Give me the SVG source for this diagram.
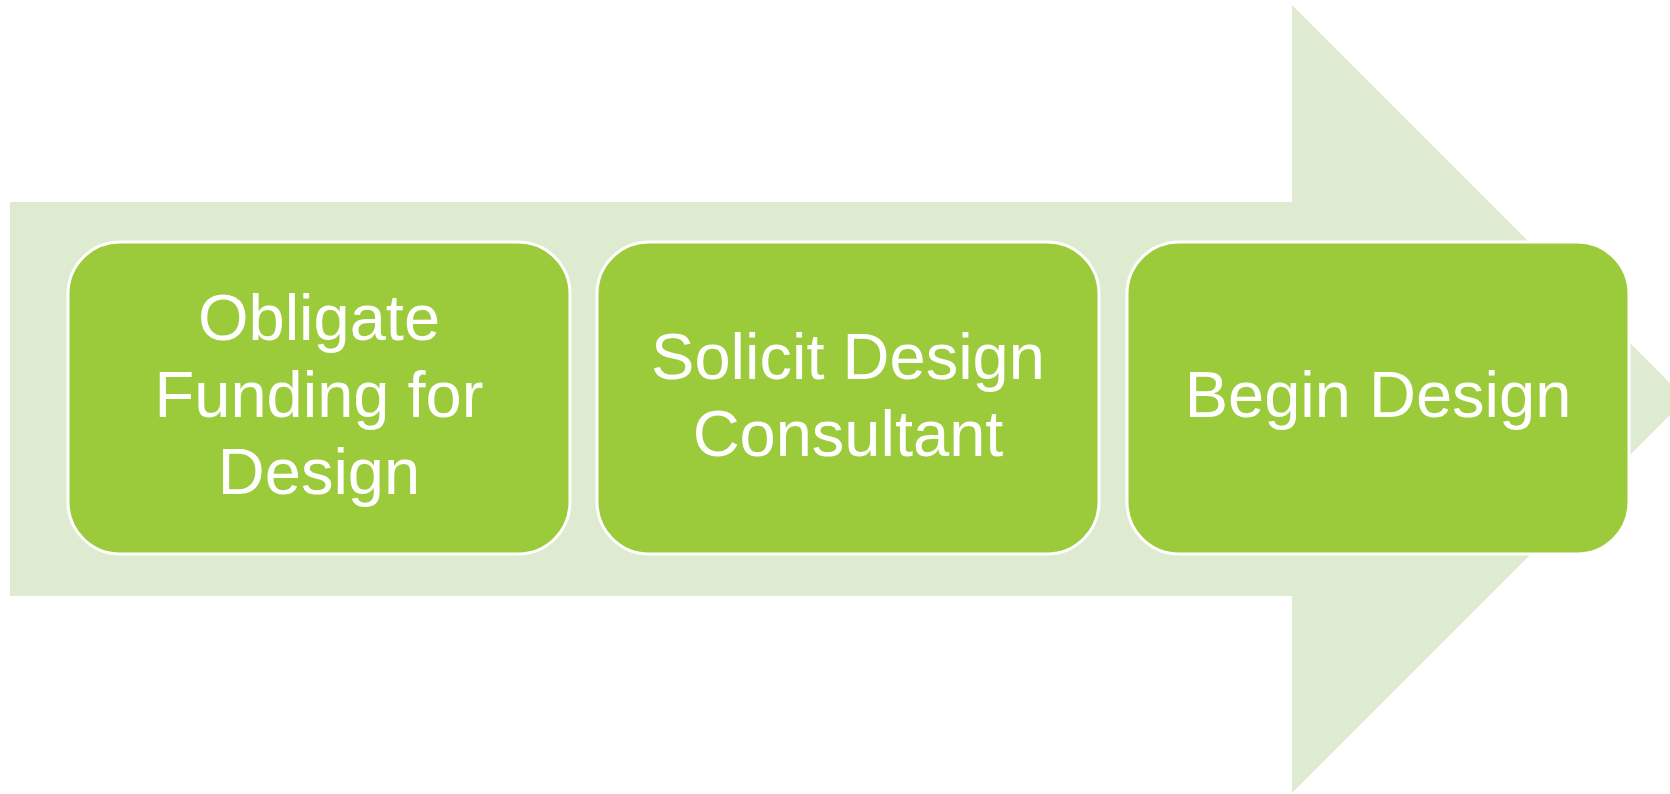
<svg xmlns="http://www.w3.org/2000/svg" width="1670" height="794" viewBox="0 0 1670 794">
<style>
.box{fill:#9bcb3b;stroke:#ffffff;stroke-width:3}
.lbl{font-family:"Liberation Sans",Arial,sans-serif;font-size:65px;fill:#ffffff;text-anchor:middle}
</style>
<rect width="1670" height="794" fill="#ffffff"/>
<g id="connectors">
<polygon points="10,202 1292,202 1292,5 1686,399 1292,793 1292,596 10,596" fill="#dfebd0"/>
</g>
<g id="node1">
<rect class="box" x="68" y="242" width="502" height="312" rx="52" ry="52"/>
<text class="lbl" x="319" y="340">Obligate</text>
<text class="lbl" x="319" y="417">Funding for</text>
<text class="lbl" x="319" y="494">Design</text>
</g>
<g id="node2">
<rect class="box" x="597" y="242" width="502" height="312" rx="52" ry="52"/>
<text class="lbl" x="848" y="378.5">Solicit Design</text>
<text class="lbl" x="848" y="455.5">Consultant</text>
</g>
<g id="node3">
<rect class="box" x="1127" y="242" width="502" height="312" rx="52" ry="52"/>
<text class="lbl" x="1378" y="417">Begin Design</text>
</g>
</svg>
